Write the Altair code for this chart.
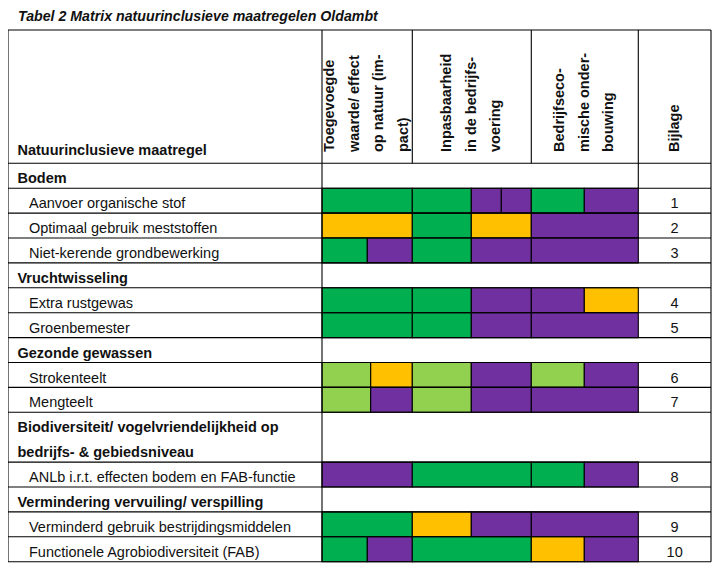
import altair as alt
import pandas as pd

# ---------------- data ----------------
TITLE = "Tabel 2 Matrix natuurinclusieve maatregelen Oldambt"
STUB_HEADER = "Natuurinclusieve maatregel"
CRITERIA = [
    "Toegevoegde\nwaarde/ effect\nop natuur (im-\npact)",
    "Inpasbaarheid\nin de bedrijfs-\nvoering",
    "Bedrijfseco-\nmische onder-\nbouwing",
    "Bijlage",
]
ROW_LABELS = [
    "Bodem",
    "Aanvoer organische stof",
    "Optimaal gebruik meststoffen",
    "Niet-kerende grondbewerking",
    "Vruchtwisseling",
    "Extra rustgewas",
    "Groenbemester",
    "Gezonde gewassen",
    "Strokenteelt",
    "Mengteelt",
    "Biodiversiteit/ vogelvriendelijkheid op\nbedrijfs- & gebiedsniveau",
    "ANLb i.r.t. effecten bodem en FAB-functie",
    "Vermindering vervuiling/ verspilling",
    "Verminderd gebruik bestrijdingsmiddelen",
    "Functionele Agrobiodiversiteit (FAB)",
]
ROW_KIND = ["group", "item", "item", "item", "group", "item", "item", "group",
            "item", "item", "group", "item", "group", "item", "item"]
BIJLAGE = ["", "1", "2", "3", "", "4", "5", "", "6", "7", "", "8", "", "9", "10"]

# rating codes: G = green, LG = light green, Y = yellow/orange, P = purple
# each segment: (from sub-column edge, to sub-column edge, rating)
SCORES = [
    [],
    [("A", "C", "G"), ("C", "D", "G"), ("D", "E", "P"), ("E", "F", "P"), ("F", "G", "G"), ("G", "H", "P")],
    [("A", "C", "Y"), ("C", "D", "G"), ("D", "F", "Y"), ("F", "H", "P")],
    [("A", "B", "G"), ("B", "C", "P"), ("C", "D", "G"), ("D", "F", "P"), ("F", "H", "P")],
    [],
    [("A", "C", "G"), ("C", "D", "G"), ("D", "F", "P"), ("F", "G", "P"), ("G", "H", "Y")],
    [("A", "C", "G"), ("C", "D", "G"), ("D", "F", "P"), ("F", "H", "P")],
    [],
    [("A", "B2", "LG"), ("B2", "C", "Y"), ("C", "D", "LG"), ("D", "F", "P"), ("F", "G", "LG"), ("G", "H", "P")],
    [("A", "B2", "LG"), ("B2", "C", "P"), ("C", "D", "LG"), ("D", "F", "P"), ("F", "H", "P")],
    [],
    [("A", "C", "P"), ("C", "F", "G"), ("F", "G", "G"), ("G", "H", "P")],
    [],
    [("A", "C", "G"), ("C", "D", "Y"), ("D", "F", "P"), ("F", "H", "P")],
    [("A", "B", "G"), ("B", "C", "P"), ("C", "F", "G"), ("F", "G", "Y"), ("G", "H", "P")],
]
RATING_CODES = ["G", "LG", "Y", "P"]
RATING_COLORS = ["#00B050", "#92D050", "#FFC000", "#7030A0"]

# ---------------- layout (table units) ----------------
W, H = 705, 560
EDGE = {"L": 0, "A": 314, "B": 359.3, "B2": 362.7, "C": 404.3, "D": 463.3,
        "E": 493.3, "F": 523.3, "G": 576.3, "H": 630.3, "R": 703}
TOP = 22
HEAD_BOTTOM = 155.3
ROW_H = 24.9
ROW_SPAN = [2 if "\n" in l else 1 for l in ROW_LABELS]
FONT = "Liberation Sans"
FS = 14.5
HEAD_LH = 24.7
LW = 1.1

row_top = []
y = HEAD_BOTTOM
for s in ROW_SPAN:
    row_top.append(y)
    y += s * ROW_H
BOTTOM = y

# cells
cells = []
for i, segs in enumerate(SCORES):
    for a, b, r in segs:
        cells.append({"x": EDGE[a], "x2": EDGE[b], "y": row_top[i],
                      "y2": row_top[i] + ROW_SPAN[i] * ROW_H, "rating": r})
cells = pd.DataFrame(cells)

# grid lines
lines = []
for yy in [TOP, HEAD_BOTTOM] + [t + s * ROW_H for t, s in zip(row_top, ROW_SPAN)]:
    lines.append({"x": EDGE["L"], "x2": EDGE["R"], "y": yy, "y2": yy})
for xx in [EDGE["L"], EDGE["A"], EDGE["R"]]:
    lines.append({"x": xx, "x2": xx, "y": TOP, "y2": BOTTOM})
for xx in [EDGE["C"], EDGE["F"]]:
    lines.append({"x": xx, "x2": xx, "y": TOP, "y2": HEAD_BOTTOM})
lines.append({"x": EDGE["H"], "x2": EDGE["H"], "y": TOP, "y2": row_top[1]})
lines = pd.DataFrame(lines)

# row labels
labels = pd.DataFrame({
    "x": [9.5 if k == "group" else 21 for k in ROW_KIND],
    "y": [t + 20 for t in row_top],
    "text": ROW_LABELS,
    "kind": ROW_KIND,
})
bij = pd.DataFrame({
    "x": [(EDGE["H"] + EDGE["R"]) / 2] * len(BIJLAGE),
    "y": [t + 20 for t in row_top],
    "text": BIJLAGE,
})
bij = bij[bij["text"] != ""]

# rotated column headers: centre the block of lines inside each column
col_bounds = [("A", "C"), ("C", "F"), ("F", "H"), ("H", "R")]
heads = pd.DataFrame({
    "x": [(EDGE[a] + EDGE[b]) / 2 - (t.count("\n")) * HEAD_LH / 2
          for (a, b), t in zip(col_bounds, CRITERIA)],
    "y": [144] * 4,
    "text": CRITERIA,
})
stub = pd.DataFrame({"x": [9.5], "y": [HEAD_BOTTOM - 8], "text": [STUB_HEADER]})
title = pd.DataFrame({"x": [10], "y": [12.5], "text": [TITLE]})

xs = alt.Scale(domain=[0, W], nice=False, zero=False)
ys = alt.Scale(domain=[0, H], nice=False, zero=False, reverse=True)

def XY(df_has_x2=False, df_has_y2=False):
    enc = {"x": alt.X("x:Q", scale=xs, axis=None),
           "y": alt.Y("y:Q", scale=ys, axis=None)}
    if df_has_x2:
        enc["x2"] = alt.X2("x2:Q")
    if df_has_y2:
        enc["y2"] = alt.Y2("y2:Q")
    return enc

rects = alt.Chart(cells).mark_rect(stroke="black", strokeWidth=LW).encode(
    **XY(True, True),
    color=alt.Color("rating:N", scale=alt.Scale(domain=RATING_CODES, range=RATING_COLORS), legend=None),
)
rules = alt.Chart(lines).mark_rule(color="black", strokeWidth=LW).encode(**XY(True, True))

group_txt = alt.Chart(labels[labels["kind"] == "group"]).mark_text(
    font=FONT, fontSize=FS, fontWeight="bold", align="left", baseline="alphabetic",
    lineBreak="\n", lineHeight=25, color="#111111",
).encode(**XY(), text="text:N")
item_txt = alt.Chart(labels[labels["kind"] == "item"]).mark_text(
    font=FONT, fontSize=FS, align="left", baseline="alphabetic", color="#111111",
).encode(**XY(), text="text:N")
bij_txt = alt.Chart(bij).mark_text(
    font=FONT, fontSize=FS, align="center", baseline="alphabetic", color="#111111",
).encode(**XY(), text="text:N")
head_txt = alt.Chart(heads).mark_text(
    font=FONT, fontSize=FS, fontWeight="bold", align="left", baseline="middle",
    angle=270, lineBreak="\n", lineHeight=HEAD_LH, color="#111111",
).encode(**XY(), text="text:N")
stub_txt = alt.Chart(stub).mark_text(
    font=FONT, fontSize=FS, fontWeight="bold", align="left", baseline="alphabetic", color="#111111",
).encode(**XY(), text="text:N")
title_txt = alt.Chart(title).mark_text(
    font=FONT, fontSize=14.2, fontWeight="bold", fontStyle="italic", align="left",
    baseline="alphabetic", color="#111111",
).encode(**XY(), text="text:N")

chart = alt.layer(rects, rules, group_txt, item_txt, bij_txt, head_txt, stub_txt, title_txt).properties(
    width=W, height=H, padding=0, autosize="none",
).configure_view(stroke=None)

chart.save("out.html", embed_options={"renderer": "svg", "actions": False})
